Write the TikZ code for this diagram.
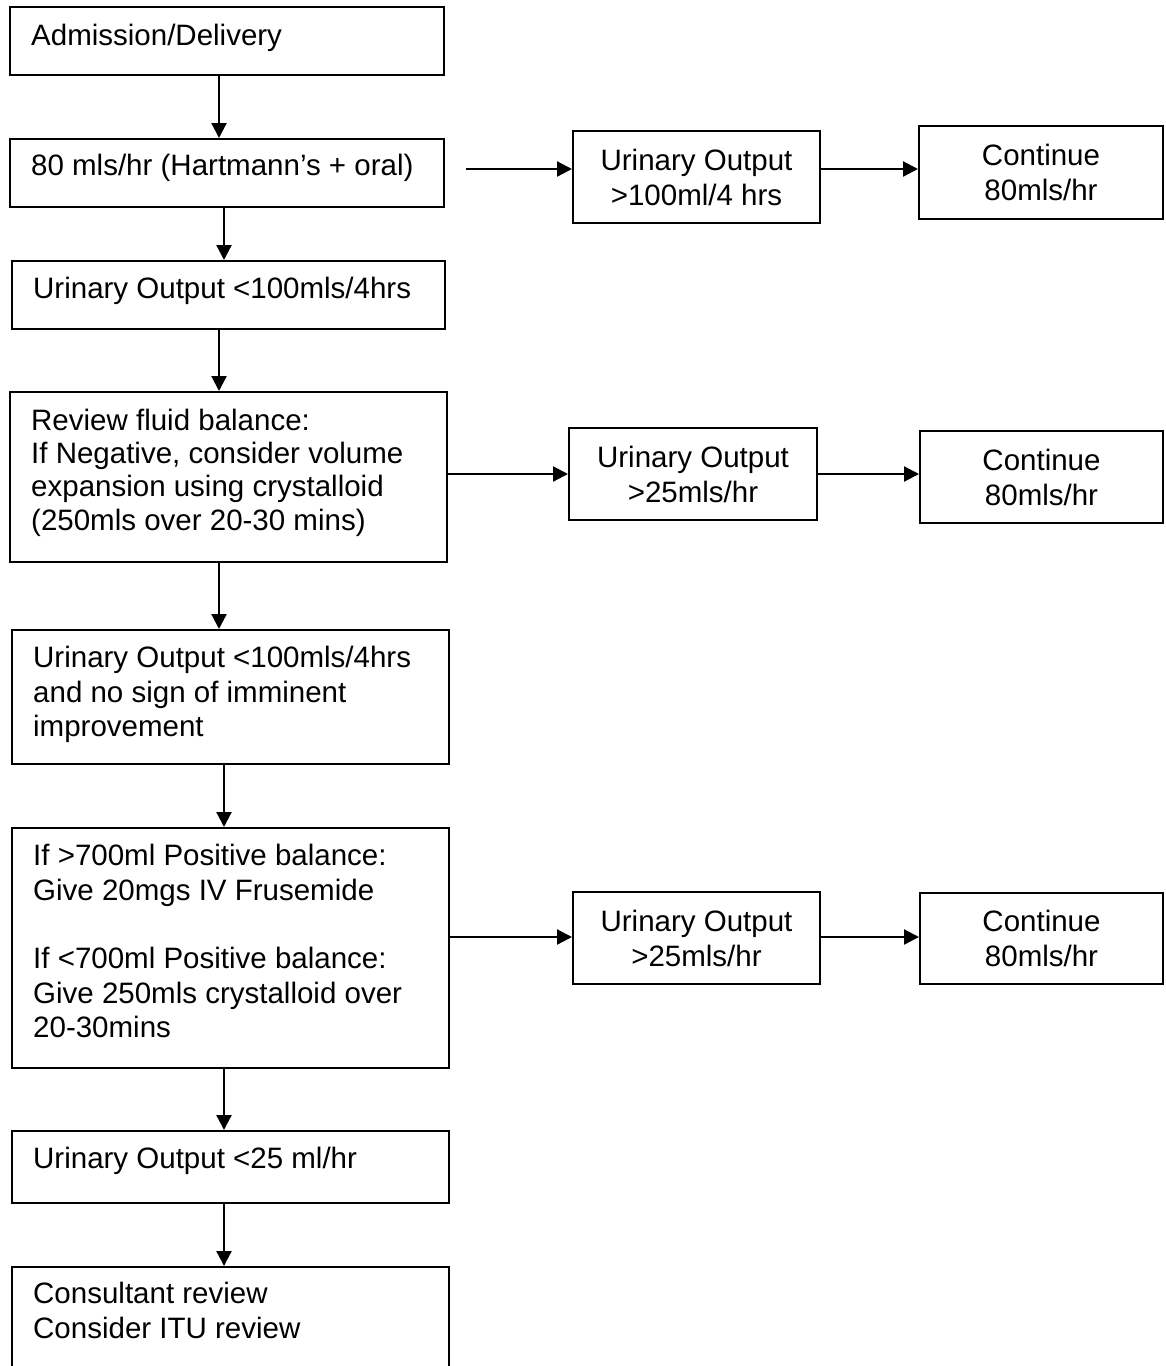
\documentclass[tikz,border=0pt]{standalone}
\usepackage{fontspec}
\setmainfont{Liberation Sans}
\usetikzlibrary{arrows.meta}
\begin{document}
\begin{tikzpicture}[x=1pt,y=-1pt,
  box/.style={draw, line width=2pt, inner sep=0pt, anchor=north west},
  rbox/.style={draw, line width=2pt, inner sep=0pt, align=center, font=\fontsize{29.5}{35}\selectfont},
  lbl/.style={anchor=north west, inner sep=0pt, align=left, font=\fontsize{29.5}{34.5}\selectfont},
  arr/.style={line width=2.2pt, -{Triangle[length=15pt,width=15pt]}}]
\useasboundingbox (0,0) rectangle (1166,1366);
\clip (0,0) rectangle (1166,1366);
\fill[white] (0,0) rectangle (1166,1366);
% left column
\node[box, minimum width=434pt, minimum height=68pt] (b1) at (9,6) {};
\node[lbl] (t1) at (31,24) {Admission/Delivery};
\node[box, minimum width=434pt, minimum height=68pt] (b2) at (9,138) {};
\node[lbl] (t2) at (31,154) {80 mls/hr (Hartmann’s + oral)};
\node[box, minimum width=433pt, minimum height=68pt] (b3) at (11,260) {};
\node[lbl] (t3) at (33,277) {Urinary Output <100mls/4hrs};
\node[box, minimum width=437pt, minimum height=170pt] (b4) at (9,391) {};
\node[lbl, font=\fontsize{29.5}{33.2}\selectfont] (t4) at (31,409) {Review fluid balance:\\If Negative, consider volume\\expansion using crystalloid\\(250mls over 20-30 mins)};
\node[box, minimum width=437pt, minimum height=134pt] (b5) at (11,629) {};
\node[lbl] (t5) at (33,646) {Urinary Output <100mls/4hrs\\and no sign of imminent\\improvement};
\node[box, minimum width=437pt, minimum height=240pt] (b6) at (11,827) {};
\node[lbl] (t6) at (33,844) {If >700ml Positive balance:\\Give 20mgs IV Frusemide\\[34pt]If <700ml Positive balance:\\Give 250mls crystalloid over\\20-30mins};
\node[box, minimum width=437pt, minimum height=72pt] (b7) at (11,1130) {};
\node[lbl] (t7) at (33,1147) {Urinary Output <25 ml/hr};
\node[box, minimum width=437pt, minimum height=130pt] (b8) at (11,1266) {};
\node[lbl] (t8) at (33,1282) {Consultant review\\Consider ITU review};
% right columns
\node[rbox, minimum width=247pt, minimum height=92pt] (r1a) at (696.5,177) {Urinary Output\\>100ml/4 hrs};
\node[rbox, minimum width=244pt, minimum height=93pt] (r1b) at (1041,172.5) {Continue\\80mls/hr};
\node[rbox, minimum width=248pt, minimum height=92pt] (r2a) at (693,474) {Urinary Output\\>25mls/hr};
\node[rbox, minimum width=243pt, minimum height=92pt] (r2b) at (1041.5,477) {Continue\\80mls/hr};
\node[rbox, minimum width=247pt, minimum height=92pt] (r3a) at (696.5,938) {Urinary Output\\>25mls/hr};
\node[rbox, minimum width=243pt, minimum height=91pt] (r3b) at (1041.5,938) {Continue\\80mls/hr};
% horizontal arrows
\coordinate (s1) at (466,169);
\coordinate (s2) at (0,474);
\coordinate (s3) at (0,937);
\draw[arr] (s1) -- (s1 -| r1a.west);
\draw[arr] (r1a.east |- s1) -- (r1b.west |- s1);
\draw[arr] (b4.east |- s2) -- (r2a.west |- s2);
\draw[arr] (r2a.east |- s2) -- (r2b.west |- s2);
\draw[arr] (b6.east |- s3) -- (r3a.west |- s3);
\draw[arr] (r3a.east |- s3) -- (r3b.west |- s3);
% vertical arrows
\coordinate (va) at (219,0);
\coordinate (vb) at (224,0);
\draw[arr] (va |- b1.south) -- (va |- b2.north);
\draw[arr] (vb |- b2.south) -- (vb |- b3.north);
\draw[arr] (va |- b3.south) -- (va |- b4.north);
\draw[arr] (va |- b4.south) -- (va |- b5.north);
\draw[arr] (vb |- b5.south) -- (vb |- b6.north);
\draw[arr] (vb |- b6.south) -- (vb |- b7.north);
\draw[arr] (vb |- b7.south) -- (vb |- b8.north);
\end{tikzpicture}
\end{document}
